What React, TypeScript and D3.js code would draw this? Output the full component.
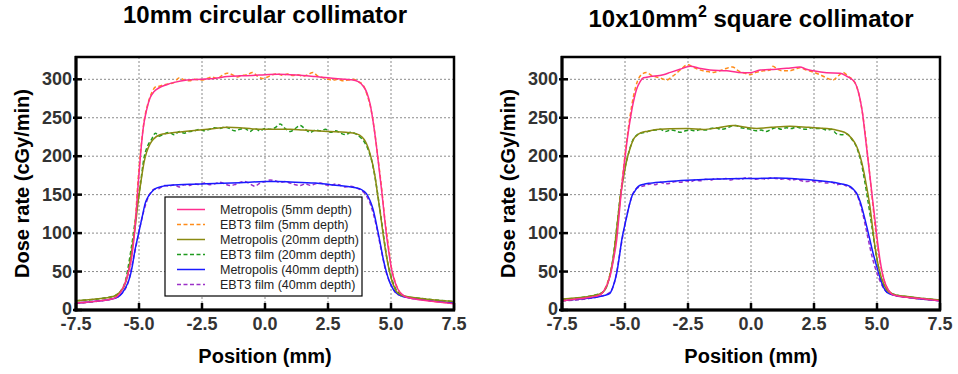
import { useEffect } from 'react';
import * as d3 from 'd3';

type Pt = [number, number];

const X_TICKS = [-7.5, -5, -2.5, 0, 2.5, 5, 7.5];
const Y_TICKS = [0, 50, 100, 150, 200, 250, 300];
const GRID_X = [-5, -2.5, 0, 2.5, 5];
const GRID_Y = [50, 100, 150, 200, 250, 300];

const LEGEND_LABELS = [
  'Metropolis (5mm depth)',
  'EBT3 film (5mm depth)',
  'Metropolis (20mm depth)',
  'EBT3 film (20mm depth)',
  'Metropolis (40mm depth)',
  'EBT3 film (40mm depth)',
];
const COLORS = ['#ff2d8f', '#ff8c1a', '#8a8a12', '#1f9a1f', '#1a1aff', '#9b30c8'];
const DASHED = [false, true, false, true, false, true];

// ---- 10mm circular collimator ----
const L_MET5: Pt[] = [
  [-7.5, 9], [-6.8, 11], [-6.0, 15], [-5.75, 22], [-5.55, 35], [-5.4, 52], [-5.29, 69], [-5.15, 110],
  [-5.03, 165], [-4.93, 205], [-4.83, 237], [-4.7, 260], [-4.56, 276], [-4.4, 284], [-4.2, 289],
  [-3.9, 293], [-3.6, 296], [-3.1, 299], [-2.5, 300], [-2.0, 301], [-1.5, 303.5], [-1.0, 304.5],
  [-0.5, 305], [0, 306], [0.5, 306.5], [1.0, 306], [1.5, 305], [2.0, 303.5], [2.5, 302], [3.0, 300.5],
  [3.4, 299.5], [3.7, 297], [3.9, 291], [4.05, 282], [4.17, 268], [4.3, 243], [4.43, 211], [4.53, 183],
  [4.63, 155], [4.73, 124], [4.83, 95], [4.93, 72], [5.03, 52], [5.15, 37], [5.29, 26], [5.45, 20],
  [5.62, 16.5], [6.0, 14], [6.7, 11], [7.5, 8],
];
const L_EBT5: Pt[] = [
  [-7.5, 9], [-6.0, 15.5], [-5.75, 23], [-5.5, 40], [-5.3, 70], [-5.15, 115], [-5.03, 172], [-4.9, 218],
  [-4.8, 245], [-4.65, 268], [-4.5, 282], [-4.35, 290], [-4.2, 291], [-4.0, 293], [-3.8, 294], [-3.6, 296],
  [-3.4, 302], [-3.2, 299], [-3.0, 298], [-2.8, 300], [-2.5, 299], [-2.3, 301], [-2.1, 303], [-1.9, 301],
  [-1.7, 305], [-1.5, 308], [-1.3, 306], [-1.1, 303], [-0.9, 305], [-0.7, 306], [-0.5, 309], [-0.3, 304],
  [-0.1, 301], [0.1, 303], [0.3, 306], [0.5, 307], [0.7, 305], [0.9, 307], [1.1, 305], [1.3, 306],
  [1.5, 304], [1.7, 306], [1.9, 309], [2.1, 304], [2.3, 302], [2.5, 300], [2.7, 299], [2.9, 300],
  [3.1, 298], [3.3, 299], [3.5, 300], [3.7, 297], [3.9, 292], [4.05, 280], [4.2, 262], [4.35, 232],
  [4.5, 193], [4.63, 158], [4.75, 120], [4.88, 88], [5.0, 58], [5.15, 38], [5.3, 26], [5.6, 17],
  [6.2, 13.5], [7.5, 8.5],
];
const L_MET20: Pt[] = [
  [-7.5, 12], [-6.8, 14], [-6.0, 18], [-5.8, 22], [-5.6, 30], [-5.45, 45], [-5.3, 75], [-5.15, 108],
  [-5.03, 142], [-4.9, 172], [-4.8, 192], [-4.7, 205], [-4.56, 216], [-4.43, 222], [-4.17, 228],
  [-3.8, 230], [-3.37, 231.5], [-2.5, 234.5], [-2.0, 236], [-1.5, 237.5], [-1.0, 237], [-0.5, 235.5],
  [0, 235], [0.5, 235], [1.0, 235], [1.5, 234], [2.0, 233], [2.58, 232], [3.2, 231], [3.64, 229],
  [3.85, 225], [3.97, 220], [4.07, 213], [4.17, 203], [4.27, 190], [4.37, 173], [4.46, 152], [4.56, 130],
  [4.66, 105], [4.76, 82], [4.86, 63], [4.96, 47.5], [5.09, 33], [5.22, 24], [5.4, 19.5], [5.62, 17.5],
  [6.2, 15], [7.5, 11],
];
const L_EBT20: Pt[] = [
  [-7.5, 12], [-6.0, 18], [-5.6, 32], [-5.3, 82], [-5.1, 128], [-4.95, 162], [-4.8, 198], [-4.65, 214],
  [-4.5, 222], [-4.35, 230], [-4.2, 226], [-4.0, 229], [-3.8, 231], [-3.6, 228], [-3.4, 232], [-3.2, 230],
  [-3.0, 232], [-2.8, 233], [-2.6, 235], [-2.4, 233], [-2.2, 235], [-2.0, 237], [-1.8, 236], [-1.6, 238],
  [-1.4, 236], [-1.2, 233], [-1.0, 235], [-0.8, 236], [-0.6, 232], [-0.4, 236], [-0.2, 233], [0.0, 236],
  [0.2, 235], [0.4, 237], [0.6, 242], [0.8, 236], [1.0, 232], [1.2, 236], [1.4, 240], [1.6, 235],
  [1.8, 231], [2.0, 234], [2.2, 233], [2.4, 235], [2.6, 231], [2.8, 233], [3.0, 230], [3.2, 228],
  [3.4, 231], [3.6, 229], [3.8, 224], [3.95, 218], [4.1, 208], [4.25, 192], [4.4, 166], [4.55, 133],
  [4.7, 98], [4.85, 65], [5.0, 44], [5.15, 30], [5.35, 21], [5.6, 17.5], [6.2, 15], [7.5, 11],
];
const L_MET40: Pt[] = [
  [-7.5, 9], [-6.8, 11], [-6.0, 15], [-5.75, 19], [-5.55, 28], [-5.36, 43], [-5.26, 58], [-5.16, 78],
  [-5.06, 93], [-4.96, 108], [-4.86, 123], [-4.76, 138], [-4.66, 146], [-4.56, 151], [-4.37, 157.5],
  [-4.1, 160.5], [-3.9, 162], [-3.0, 163.5], [-2.0, 164.5], [-1.0, 165.5], [0, 167], [0.5, 167],
  [1.0, 166.5], [2.0, 165], [2.6, 163], [3.2, 161], [3.6, 159], [3.77, 157.5], [3.9, 155], [4.03, 151],
  [4.13, 145], [4.22, 138], [4.3, 129.5], [4.4, 115], [4.5, 99], [4.6, 82], [4.7, 65], [4.83, 48],
  [4.96, 35], [5.09, 27], [5.22, 22], [5.4, 18.5], [5.62, 16.4], [6.2, 13.5], [7.5, 9],
];
const L_EBT40: Pt[] = [
  [-7.5, 9], [-6.0, 15], [-5.5, 30], [-5.2, 70], [-5.0, 102], [-4.8, 130], [-4.6, 149], [-4.4, 157],
  [-4.2, 158], [-4.0, 162], [-3.8, 161], [-3.6, 163], [-3.4, 160], [-3.2, 163], [-3.0, 162], [-2.8, 164],
  [-2.6, 163], [-2.4, 165], [-2.2, 163], [-2.0, 164], [-1.8, 166], [-1.6, 164], [-1.4, 162], [-1.2, 163],
  [-1.0, 166], [-0.8, 167], [-0.6, 164], [-0.4, 161], [-0.2, 165], [0, 167], [0.2, 169], [0.4, 168],
  [0.6, 166], [0.8, 167], [1.0, 165], [1.2, 163], [1.4, 162], [1.6, 164], [1.8, 162], [2.0, 164],
  [2.2, 165], [2.4, 163], [2.6, 162], [2.8, 164], [3.0, 162], [3.2, 160], [3.4, 161], [3.6, 159],
  [3.8, 156], [4.0, 150], [4.2, 136], [4.4, 112], [4.6, 80], [4.8, 50], [5.0, 33], [5.2, 22],
  [5.5, 17.5], [6.2, 13.5], [7.5, 9],
];

// ---- 10x10mm2 square collimator ----
const R_MET5: Pt[] = [
  [-7.5, 12], [-7.0, 14], [-6.4, 16.5], [-5.99, 19.5], [-5.8, 27], [-5.6, 43], [-5.46, 65], [-5.33, 91],
  [-5.23, 125], [-5.13, 160], [-5.03, 190], [-4.93, 217], [-4.83, 240], [-4.73, 260], [-4.63, 276],
  [-4.54, 287], [-4.4, 297], [-4.27, 302], [-4.0, 303.5], [-3.48, 306], [-3.2, 309], [-2.82, 313],
  [-2.42, 317], [-2.0, 314], [-1.63, 312], [-0.96, 311], [-0.5, 309], [-0.04, 308.5], [0.36, 312],
  [1.0, 313], [1.5, 314.5], [1.94, 316], [2.2, 313], [2.47, 311], [3.0, 308.5], [3.53, 308], [3.8, 304],
  [4.0, 300], [4.13, 295.5], [4.23, 287], [4.33, 274], [4.43, 255], [4.52, 230], [4.62, 202], [4.72, 174],
  [4.82, 145], [4.92, 117], [5.02, 89], [5.12, 65], [5.22, 47], [5.32, 35], [5.45, 26], [5.65, 19.5],
  [6.2, 16.5], [6.8, 14.5], [7.5, 12],
];
const R_EBT5: Pt[] = [
  [-7.5, 12], [-6.0, 20], [-5.7, 35], [-5.45, 70], [-5.25, 125], [-5.1, 172], [-4.95, 215], [-4.8, 252],
  [-4.65, 280], [-4.5, 298], [-4.35, 306], [-4.15, 309], [-3.95, 305], [-3.75, 303], [-3.55, 301],
  [-3.36, 299], [-3.15, 303], [-2.95, 308], [-2.75, 314], [-2.5, 319], [-2.3, 316], [-2.1, 313],
  [-1.9, 311], [-1.7, 310], [-1.5, 309], [-1.25, 311], [-1.0, 314], [-0.73, 316], [-0.5, 311],
  [-0.25, 308], [-0.04, 306], [0.2, 309], [0.5, 311], [0.76, 312], [0.87, 317], [1.05, 313], [1.27, 311],
  [1.5, 311], [1.75, 313], [1.94, 315], [2.2, 312], [2.5, 309], [2.8, 305], [3.05, 301], [3.26, 299],
  [3.45, 304], [3.66, 309], [3.85, 304], [4.05, 299], [4.2, 290], [4.35, 270], [4.5, 238], [4.65, 195],
  [4.8, 148], [4.95, 102], [5.1, 66], [5.25, 42], [5.45, 26], [5.7, 19.5], [6.3, 16], [7.5, 12.5],
];
const R_MET20: Pt[] = [
  [-7.5, 14], [-7.0, 15.5], [-6.4, 18], [-6.0, 21], [-5.85, 24], [-5.73, 30], [-5.6, 45], [-5.46, 69],
  [-5.33, 105], [-5.2, 143], [-5.06, 172], [-4.93, 195], [-4.8, 210], [-4.67, 221.6], [-4.53, 227],
  [-4.4, 230], [-4.1, 232.5], [-3.87, 234], [-3.21, 235.6], [-2.5, 236], [-1.89, 234.7], [-1.3, 237],
  [-0.7, 240], [-0.2, 237.5], [0.23, 236], [0.8, 237.5], [1.55, 239], [2.3, 237.5], [3.0, 236],
  [3.5, 233], [3.8, 229.5], [4.0, 223], [4.19, 213], [4.33, 200], [4.46, 182.5], [4.59, 160],
  [4.72, 134.7], [4.82, 108], [4.92, 82.5], [5.02, 63], [5.12, 47.8], [5.25, 35], [5.39, 26], [5.6, 21],
  [6.2, 17.5], [7.5, 13],
];
const R_EBT20: Pt[] = [
  [-7.5, 14], [-6.0, 21], [-5.75, 30], [-5.5, 62], [-5.3, 115], [-5.15, 158], [-5.0, 185], [-4.85, 205],
  [-4.7, 220], [-4.55, 227], [-4.4, 230], [-4.2, 231], [-4.0, 233], [-3.8, 234], [-3.6, 235], [-3.4, 232],
  [-3.2, 234], [-3.0, 233], [-2.8, 231], [-2.6, 233], [-2.4, 234], [-2.2, 233], [-2.0, 235], [-1.8, 234],
  [-1.6, 236], [-1.4, 237], [-1.2, 235], [-1.0, 236], [-0.8, 239], [-0.6, 240], [-0.4, 237], [-0.2, 236],
  [0.0, 235], [0.2, 233], [0.4, 234], [0.6, 232], [0.8, 235], [1.0, 237], [1.2, 235], [1.4, 237],
  [1.6, 236], [1.8, 238], [2.0, 236], [2.2, 235], [2.4, 237], [2.6, 236], [2.8, 236], [3.0, 234],
  [3.2, 235], [3.4, 229], [3.6, 228], [3.8, 229], [4.0, 222], [4.2, 211], [4.35, 195], [4.5, 170],
  [4.65, 140], [4.8, 108], [4.95, 75], [5.1, 50], [5.25, 34], [5.45, 25], [5.7, 20], [6.3, 17], [7.5, 13],
];
const R_MET40: Pt[] = [
  [-7.5, 12], [-7.0, 13.5], [-6.4, 15.5], [-6.0, 17.5], [-5.8, 19], [-5.6, 21.7], [-5.46, 32],
  [-5.33, 47.8], [-5.23, 68], [-5.13, 91], [-5.03, 107], [-4.93, 121.6], [-4.83, 136], [-4.73, 147.7],
  [-4.6, 155], [-4.47, 160.7], [-4.25, 163.5], [-4.0, 165], [-3.3, 167], [-2.55, 168.6], [-1.7, 170],
  [-0.83, 170.8], [0.1, 171], [1.02, 171.7], [2.0, 170], [3.0, 167], [3.5, 164.5], [3.93, 160.7],
  [4.06, 157], [4.19, 152], [4.33, 141], [4.46, 126], [4.59, 109], [4.72, 91], [4.85, 73], [4.99, 56.5],
  [5.12, 42], [5.25, 30], [5.4, 23], [5.65, 19.5], [6.2, 16.5], [7.5, 12],
];
const R_EBT40: Pt[] = [
  [-7.5, 12], [-6.0, 17.5], [-5.6, 23], [-5.4, 38], [-5.2, 75], [-5.0, 112], [-4.85, 134], [-4.7, 150],
  [-4.55, 158], [-4.4, 160], [-4.2, 162], [-4.0, 164], [-3.8, 163], [-3.6, 166], [-3.4, 164], [-3.2, 165],
  [-3.0, 167], [-2.8, 166], [-2.6, 168], [-2.4, 167], [-2.2, 169], [-2.0, 168], [-1.8, 170], [-1.6, 169],
  [-1.4, 171], [-1.2, 170], [-1.0, 171], [-0.8, 169], [-0.6, 171], [-0.4, 170], [-0.2, 172], [0, 171],
  [0.2, 170], [0.4, 171], [0.6, 170], [0.8, 172], [1.0, 171], [1.2, 170], [1.4, 171], [1.6, 169],
  [1.8, 170], [2.0, 168], [2.2, 167], [2.4, 168], [2.6, 166], [2.8, 167], [3.0, 165], [3.2, 166],
  [3.4, 163], [3.6, 164], [3.8, 161], [4.0, 158], [4.2, 150], [4.4, 130], [4.6, 100], [4.8, 70],
  [5.0, 48], [5.2, 32], [5.4, 23], [5.7, 19], [6.3, 16], [7.5, 12],
];

const LEFT_SERIES = [L_MET5, L_EBT5, L_MET20, L_EBT20, L_MET40, L_EBT40];
const RIGHT_SERIES = [R_MET5, R_EBT5, R_MET20, R_EBT20, R_MET40, R_EBT40];

const FONT = 'Arial, "Liberation Sans", Helvetica, sans-serif';
const TICK_COLOR = '#333';

// plot box
const TOP = 57;
const BOTTOM = 310;
const PLOT_W = 378;

function Panel({ left, id, title, series, legend }: {
  left: number;
  id: string;
  title: React.ReactNode;
  series: Pt[][];
  legend?: boolean;
}) {
  const x = d3.scaleLinear().domain([-7.5, 7.5]).range([left, left + PLOT_W]);
  const y = d3.scaleLinear().domain([0, 329]).range([BOTTOM, TOP]);
  const line = d3
    .line<Pt>()
    .x((d) => x(d[0]))
    .y((d) => y(d[1]))
    .curve(d3.curveMonotoneX);

  const cx = left + PLOT_W / 2;
  // film (dashed) first, then the Metropolis profiles on top
  const order = [5, 3, 1, 4, 2, 0];

  const lgX = left + 89;
  const lgY = 197;

  return (
    <g>
      <defs>
        <clipPath id={id}>
          <rect x={left} y={TOP} width={PLOT_W} height={BOTTOM - TOP} />
        </clipPath>
      </defs>

      {/* grid */}
      {GRID_X.map((v) => (
        <line key={'gx' + v} x1={x(v)} x2={x(v)} y1={TOP} y2={BOTTOM}
          stroke="#8a8a8a" strokeWidth={1} strokeDasharray="2,2" />
      ))}
      {GRID_Y.map((v) => (
        <line key={'gy' + v} x1={left} x2={left + PLOT_W} y1={y(v)} y2={y(v)}
          stroke="#8a8a8a" strokeWidth={1} strokeDasharray="2,2" />
      ))}

      {/* curves */}
      <g clipPath={`url(#${id})`}>
        {order.map((i) => (
          <path key={i} d={line(series[i]) ?? ''} fill="none" stroke={COLORS[i]}
            strokeWidth={1.5} strokeDasharray={DASHED[i] ? '4,2.5' : undefined} />
        ))}
      </g>

      {/* frame */}
      <rect x={left} y={TOP} width={PLOT_W} height={BOTTOM - TOP} fill="none" stroke="#000" strokeWidth={2.5} />
      <line x1={left} x2={left} y1={TOP - 1} y2={BOTTOM + 1.5} stroke="#000" strokeWidth={3} />
      <line x1={left - 1.5} x2={left + PLOT_W + 1} y1={BOTTOM} y2={BOTTOM} stroke="#000" strokeWidth={3} />

      {/* x ticks */}
      {X_TICKS.map((v) => (
        <g key={'xt' + v}>
          <line x1={x(v)} x2={x(v)} y1={BOTTOM} y2={BOTTOM - 7} stroke="#000" strokeWidth={2.5} />
          <text x={x(v)} y={330} textAnchor="middle" fontFamily={FONT} fontWeight="bold"
            fontSize={18} fill={TICK_COLOR}>{v.toFixed(1)}</text>
        </g>
      ))}
      {/* y ticks */}
      {Y_TICKS.map((v) => (
        <g key={'yt' + v}>
          <line x1={left - 3} x2={left + 6} y1={y(v)} y2={y(v)} stroke="#000" strokeWidth={2.5} />
          <text x={left - 4} y={y(v) - (v === 0 ? 1 : 0)} textAnchor="end" dominantBaseline="central"
            fontFamily={FONT} fontWeight="bold" fontSize={18} fill={TICK_COLOR}>{v}</text>
        </g>
      ))}

      {/* axis titles */}
      <text x={cx} y={363} textAnchor="middle" fontFamily={FONT} fontWeight="bold" fontSize={20} fill="#000">
        Position (mm)
      </text>
      <text transform={`translate(${left - 54},${(TOP + BOTTOM) / 2}) rotate(-90)`} textAnchor="middle"
        dominantBaseline="central" fontFamily={FONT} fontWeight="bold" fontSize={20} fill="#000">
        Dose rate (cGy/min)
      </text>

      {/* panel title */}
      {title}

      {legend && (
        <g>
          <rect x={lgX} y={lgY} width={197} height={99} fill="#fff" stroke="#000" strokeWidth={1.2} />
          {LEGEND_LABELS.map((lab, i) => {
            const ry = lgY + 12.5 + i * 15;
            return (
              <g key={lab}>
                <line x1={lgX + 12} x2={lgX + 40} y1={ry} y2={ry} stroke={COLORS[i]} strokeWidth={1.5}
                  strokeDasharray={DASHED[i] ? '4,2.5' : undefined} />
                <text x={lgX + 55} y={ry} dominantBaseline="central" fontFamily={FONT} fontSize={12.5}
                  fill="#222">{lab}</text>
              </g>
            );
          })}
        </g>
      )}
    </g>
  );
}

export default function App() {
  useEffect(() => {
    document.body.style.margin = '0';
  }, []);

  return (
    <svg width={958} height={374} style={{ display: 'block', background: '#fff' }}>
      <Panel
        left={76}
        id="clipL"
        series={LEFT_SERIES}
        legend
        title={
          <text x={265} y={23} textAnchor="middle" fontFamily={FONT} fontWeight="bold" fontSize={24} fill="#000">
            10mm circular collimator
          </text>
        }
      />
      <Panel
        left={562}
        id="clipR"
        series={RIGHT_SERIES}
        title={
          <text x={751} y={27} textAnchor="middle" fontFamily={FONT} fontWeight="bold" fontSize={24} fill="#000">
            10x10mm
            <tspan fontSize={16} dy={-10}>2</tspan>
            <tspan dy={10}> square collimator</tspan>
          </text>
        }
      />
    </svg>
  );
}
